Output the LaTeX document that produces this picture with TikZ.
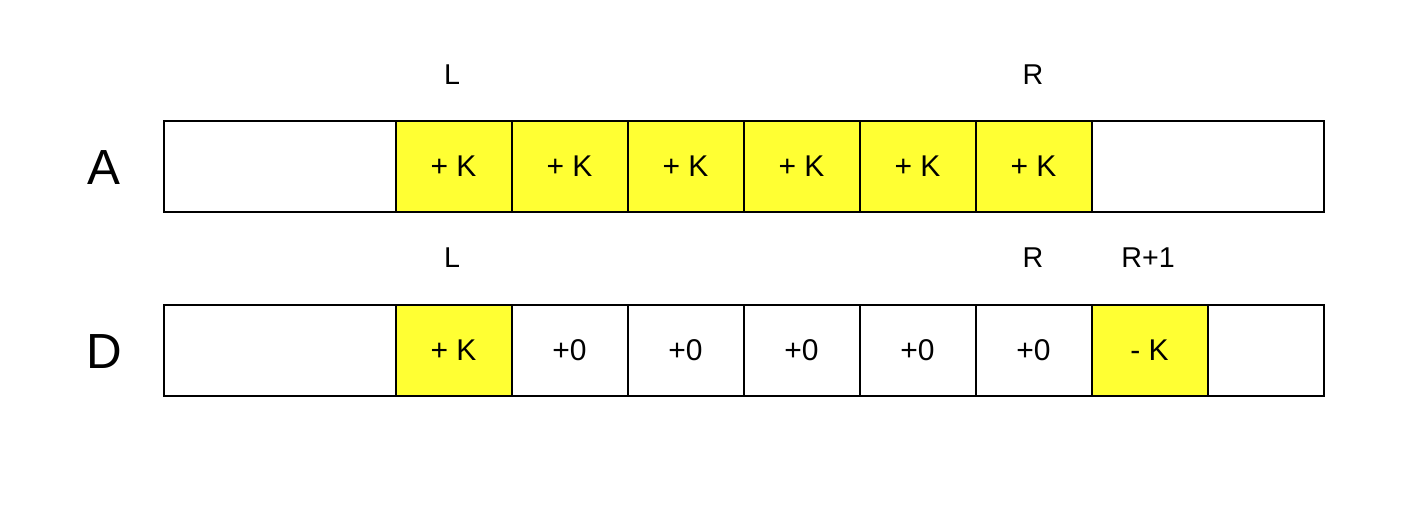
\documentclass[tikz,border=0pt]{standalone}
\usepackage{fontspec}
\setmainfont{Liberation Sans}
\definecolor{cellyellow}{HTML}{FFFF33}
\begin{document}
\begin{tikzpicture}[x=0.75pt,y=-0.75pt,
  cell/.style={draw=black,line width=1.5pt,minimum width=87pt,minimum height=68.25pt,inner sep=0pt,font=\fontsize{22.5}{26}\selectfont,anchor=west},
  wide/.style={cell,minimum width=174pt},
  hl/.style={fill=cellyellow},
  lbl/.style={font=\fontsize{21.5}{24}\selectfont,inner sep=0pt},
  rowname/.style={font=\fontsize{37}{40}\selectfont,inner sep=0pt}]
\useasboundingbox (0,0) rectangle (1426,522);
% Row A
\node[rowname] (nA) at (104,168) {A};
\node[wide] (a0) at (162.5,166.5) {};
\node[cell,hl] (a1) at (394.5,166.5) {+ K};
\node[cell,hl] (a2) at (510.5,166.5) {+ K};
\node[cell,hl] (a3) at (626.5,166.5) {+ K};
\node[cell,hl] (a4) at (742.5,166.5) {+ K};
\node[cell,hl] (a5) at (858.5,166.5) {+ K};
\node[cell,hl] (a6) at (974.5,166.5) {+ K};
\node[wide] (a7) at (1090.5,166.5) {};
\node[lbl] (aL) at (452,75) {L};
\node[lbl] (aR) at (1033,75) {R};
% Row D
\node[rowname] (nD) at (104,352) {D};
\node[wide] (d0) at (162.5,350.5) {};
\node[cell,hl] (d1) at (394.5,350.5) {+ K};
\node[cell] (d2) at (510.5,350.5) {+0};
\node[cell] (d3) at (626.5,350.5) {+0};
\node[cell] (d4) at (742.5,350.5) {+0};
\node[cell] (d5) at (858.5,350.5) {+0};
\node[cell] (d6) at (974.5,350.5) {+0};
\node[cell,hl] (d7) at (1090.5,350.5) {- K};
\node[cell] (d8) at (1206.5,350.5) {};
\node[lbl] (dL) at (452,258) {L};
\node[lbl] (dR) at (1033,258) {R};
\node[lbl] (dR1) at (1148,258) {R+1};
\end{tikzpicture}
\end{document}
